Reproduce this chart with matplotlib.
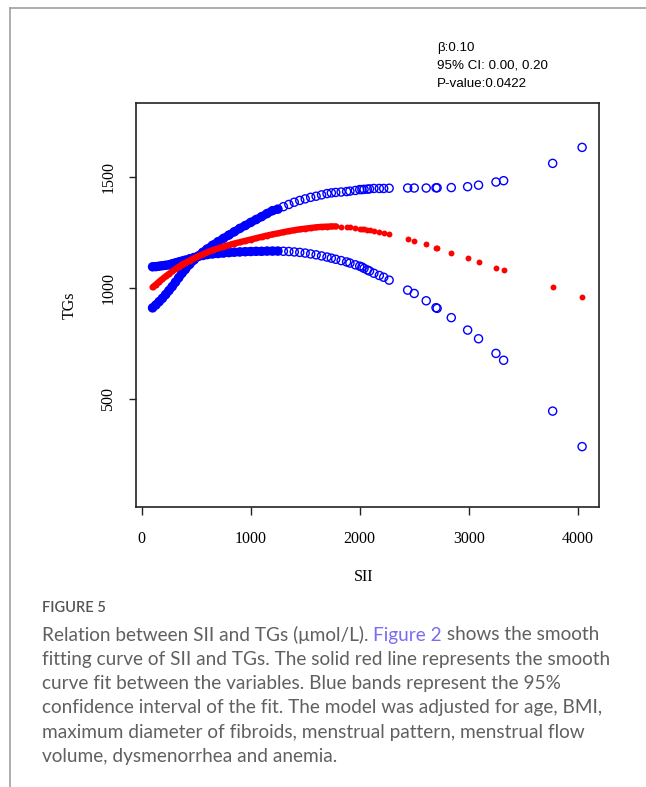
import numpy as np
import matplotlib
matplotlib.use('Agg')
import matplotlib.pyplot as plt
from matplotlib.lines import Line2D

# SII values (shared by the fit and both CI curves)
sii = [100, 130, 160, 190, 220, 250, 280, 310, 340, 370, 400, 440, 480, 520, 560,
       600, 650, 700, 750, 800, 850, 900, 950, 1000, 1050, 1100, 1150, 1200, 1250,
       1300, 1350, 1400, 1450, 1500, 1550, 1600, 1650, 1700, 1740, 1780, 1830, 1880,
       1910, 1960, 2000, 2020, 2040, 2070, 2090, 2130, 2180, 2220, 2270, 2440, 2500,
       2610, 2700, 2710, 2840, 2990, 3090, 3250, 3320, 3770, 4040]

# smooth fit (red)
tg_fit = [1005, 1017, 1030, 1042, 1054, 1065, 1076, 1087, 1097, 1107, 1115, 1125, 1135, 1145, 1153,
          1162, 1172, 1180, 1188, 1195, 1202, 1208, 1214, 1220, 1226, 1232, 1238, 1243, 1248,
          1253, 1258, 1262, 1266, 1269, 1272, 1275, 1277, 1278, 1279, 1279, 1278, 1277,
          1275, 1272, 1269, 1268, 1266, 1264, 1262, 1259, 1254, 1250, 1245, 1222, 1215,
          1198, 1184, 1182, 1160, 1136, 1120, 1093, 1081, 1006, 961]

# CI curve starting low and ending high (blue)
tg_ci_a = [912, 925, 940, 955, 972, 990, 1008, 1028, 1048, 1068, 1085, 1108, 1128, 1146, 1162,
           1177, 1194, 1210, 1225, 1240, 1255, 1270, 1283, 1297, 1310, 1323, 1337, 1350, 1357,
           1368, 1378, 1388, 1396, 1403, 1410, 1415, 1421, 1427, 1430, 1432, 1434, 1436,
           1438, 1441, 1445, 1445, 1446, 1447, 1448, 1450, 1450, 1450, 1451, 1452, 1452,
           1452, 1453, 1453, 1454, 1458, 1465, 1479, 1485, 1563, 1635]

# CI curve starting high and ending low (blue)
tg_ci_b = [1097, 1098, 1100, 1102, 1104, 1106, 1111, 1115, 1119, 1123, 1127, 1133, 1139, 1144, 1148,
           1152, 1155, 1157, 1159, 1161, 1163, 1164, 1165, 1166, 1167, 1167, 1168, 1168, 1168,
           1167, 1166, 1164, 1162, 1159, 1155, 1151, 1146, 1141, 1136, 1131, 1125, 1119,
           1114, 1106, 1100, 1096, 1090, 1083, 1078, 1068, 1058, 1050, 1037, 992, 977,
           944, 913, 910, 868, 812, 773, 707, 676, 447, 287]

xticks = [0, 1000, 2000, 3000, 4000]
yticks = [500, 1000, 1500]

W, H = 646, 787
fig = plt.figure(figsize=(W / 100, H / 100), dpi=100)

# page frame (top and left rule)
fig.add_artist(Line2D([10 / W, 1], [1 - 8 / H, 1 - 8 / H], color='#a0a0a0', lw=1.2))
fig.add_artist(Line2D([10 / W, 10 / W], [0, 1 - 8 / H], color='#a0a0a0', lw=1.2))

ax = fig.add_axes([136 / W, 1 - 507 / H, (599 - 136) / W, (507 - 103) / H])

x = np.array(sii)
dense_b = x <= 1250
dense_r = x <= 1780
# the dense part of the curves is saturated in the original
ax.plot(x[dense_b], np.array(tg_ci_a)[dense_b], color='#0000ff', lw=6, solid_capstyle='round', zorder=2)
ax.plot(x[dense_b], np.array(tg_ci_b)[dense_b], color='#0000ff', lw=6, solid_capstyle='round', zorder=2)
ax.plot(x[dense_r], np.array(tg_fit)[dense_r], color='#ff0000', lw=4.6, solid_capstyle='round', zorder=3)

ax.scatter(x, tg_ci_a, s=34, facecolors='none', edgecolors='#0000ff', linewidths=1.0, zorder=2)
ax.scatter(x, tg_ci_b, s=34, facecolors='none', edgecolors='#0000ff', linewidths=1.0, zorder=2)
ax.scatter(x, tg_fit, s=18, color='#ff0000', linewidths=0, zorder=3)

ax.set_xlim(-52, 4195)
ax.set_ylim(15, 1835)
ax.set_xticks(xticks)
ax.set_yticks(yticks)
ax.set_xticklabels([str(t) for t in xticks], family='Liberation Serif', fontsize=11.5)
ax.set_yticklabels([str(t) for t in yticks], family='Liberation Serif', fontsize=11.5,
                   rotation=90, va='center')
ax.tick_params(axis='x', direction='out', length=6, width=1, pad=11, color='#222222')
ax.tick_params(axis='y', direction='out', length=5, width=1, pad=9, color='#222222')
for sp in ax.spines.values():
    sp.set_linewidth(1.2)
    sp.set_color('#222222')

fig.text(70 / W, 1 - 305 / H, 'TGs', family='Liberation Serif', fontsize=11.5,
         rotation=90, ha='center', va='center')
fig.text(364 / W, 1 - 577 / H, 'SII', family='Liberation Serif', fontsize=11.5,
         ha='center', va='center')

# stats annotation
stats = ['β:0.10', '95% CI: 0.00, 0.20', 'P-value:0.0422']
for i, s in enumerate(stats):
    fig.text(437 / W, 1 - (48 + i * 18) / H, s, family='Liberation Sans', fontsize=9.6,
             ha='left', va='center')

# caption
fig.text(42 / W, 1 - 608 / H, 'FIGURE 5', family='Lato', fontsize=10.5, fontweight='semibold',
         color='#555555', ha='left', va='center')

cap_lines = ['fitting curve of SII and TGs. The solid red line represents the smooth',
             'curve fit between the variables. Blue bands represent the 95%',
             'confidence interval of the fit. The model was adjusted for age, BMI,',
             'maximum diameter of fibroids, menstrual pattern, menstrual flow',
             'volume, dysmenorrhea and anemia.']
cap_kw = dict(family='Lato', fontsize=13.7, color='#606060', ha='left', va='center')

fig.canvas.draw()
rend = fig.canvas.get_renderer()
y0 = 1 - 635 / H
xpos = 42 / W
for part, col in [('Relation between SII and TGs (μmol/L). ', '#606060'),
                  ('Figure 2', '#7b6cf0'), (' shows the smooth', '#606060')]:
    kw = dict(cap_kw)
    kw['color'] = col
    t = fig.text(xpos, y0, part, **kw)
    bb = t.get_window_extent(renderer=rend)
    xpos += bb.width / W
for i, line in enumerate(cap_lines):
    fig.text(42 / W, y0 - (i + 1) * 24.3 / H, line, **cap_kw)

fig.savefig('out.png', dpi=100)
